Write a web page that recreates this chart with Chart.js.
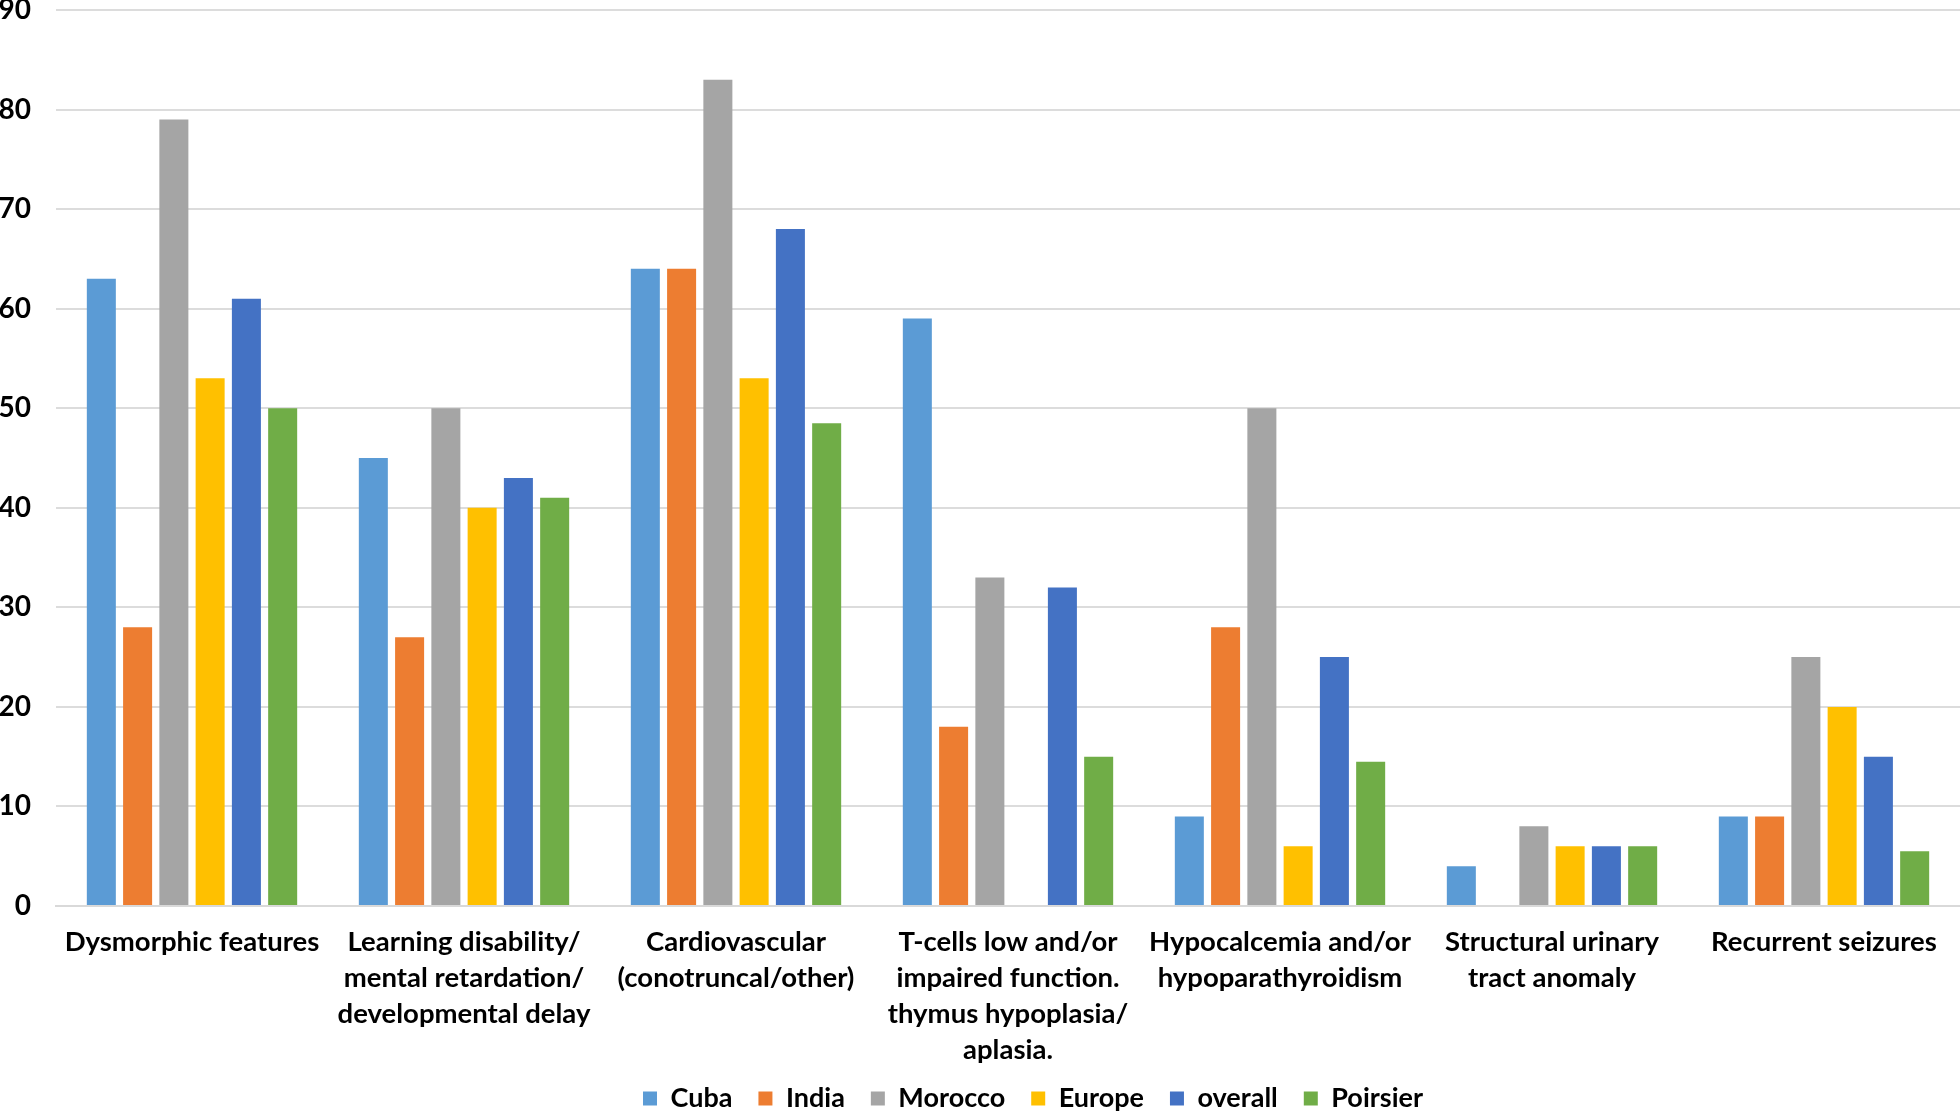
<!DOCTYPE html>
<html lang="en">
<head>
    <meta charset="UTF-8">
    <title>22q11.2 deletion features by cohort</title>
    <script src="https://cdn.jsdelivr.net/npm/chart.js"></script>
    <style>
        body { margin: 0; background: #fff; }
        #chart { display: block; }
    </style>
</head>
<body>
    <canvas id="chart" width="1960" height="1111"></canvas>

    <script>
        const categories = [
            'Dysmorphic features',
            ['Learning disability/', 'mental retardation/', 'developmental delay'],
            ['Cardiovascular', '(conotruncal/other)'],
            ['T-cells low and/or', 'impaired function.', 'thymus hypoplasia/', 'aplasia.'],
            ['Hypocalcemia and/or', 'hypoparathyroidism'],
            ['Structural urinary', 'tract anomaly'],
            'Recurrent seizures'
        ];

        const cuba     = [63, 45, 64, 59, 9, 4, 9];
        const india    = [28, 27, 64, 18, 28, null, 9];
        const morocco  = [79, 50, 83, 33, 50, 8, 25];
        const europe   = [53, 40, 53, null, 6, 6, 20];
        const overall  = [61, 43, 68, 32, 25, 6, 15];
        const poirsier = [50, 41, 48.5, 15, 14.5, 6, 5.5];

        const yTicks = [0, 10, 20, 30, 40, 50, 60, 70, 80, 90];

        const series = [
            { label: 'Cuba', data: cuba, color: '#5B9BD5' },
            { label: 'India', data: india, color: '#ED7D31' },
            { label: 'Morocco', data: morocco, color: '#A5A5A5' },
            { label: 'Europe', data: europe, color: '#FFC000' },
            { label: 'overall', data: overall, color: '#4472C4' },
            { label: 'Poirsier', data: poirsier, color: '#70AD47' }
        ];

        const fontFamily = 'Lato, "Open Sans", sans-serif';

        // the original legend sits right of centre and hangs off the bottom edge
        const legendShift = {
            id: 'legendShift',
            afterLayout(chart) {
                const lg = chart.legend;
                lg.left += 53;
                lg.right += 53;
                lg.top -= 9;
                lg.bottom = chart.height + 40;
            }
        };

        new Chart(document.getElementById('chart'), {
            type: 'bar',
            data: {
                labels: categories,
                datasets: series.map(s => ({
                    label: s.label,
                    data: s.data,
                    backgroundColor: s.color,
                    borderWidth: 0,
                    categoryPercentage: 0.8,
                    barPercentage: 0.8
                }))
            },
            options: {
                responsive: false,
                animation: false,
                layout: { padding: 0 },
                plugins: {
                    tooltip: { enabled: false },
                    legend: {
                        position: 'bottom',
                        maxHeight: 43,
                        labels: {
                            color: '#000',
                            boxWidth: 14,
                            boxHeight: 14,
                            padding: 26,
                            font: { family: fontFamily, size: 27, weight: 'bold' }
                        }
                    }
                },
                scales: {
                    x: {
                        afterFit(axis) {
                            axis.height = 162;
                        },
                        grid: { display: false, drawTicks: false },
                        border: { color: '#d9d9d9', width: 2 },
                        ticks: {
                            color: '#000',
                            padding: 18,
                            maxRotation: 0,
                            autoSkip: false,
                            font: { family: fontFamily, size: 27.5, weight: 'bold', lineHeight: 36 / 27.5 }
                        }
                    },
                    y: {
                        min: 0,
                        max: 90,
                        afterBuildTicks(axis) {
                            axis.ticks = yTicks.map(v => ({ value: v }));
                        },
                        afterFit(axis) {
                            axis.paddingTop = 10;
                            axis.width = 56;
                        },
                        grid: { color: '#dcdcdc', lineWidth: 2, drawTicks: false },
                        border: { display: false },
                        ticks: {
                            color: '#000',
                            padding: 25,
                            font: { family: fontFamily, size: 28, weight: 'bold' }
                        }
                    }
                }
            },
            plugins: [legendShift]
        });
    </script>
</body>
</html>
